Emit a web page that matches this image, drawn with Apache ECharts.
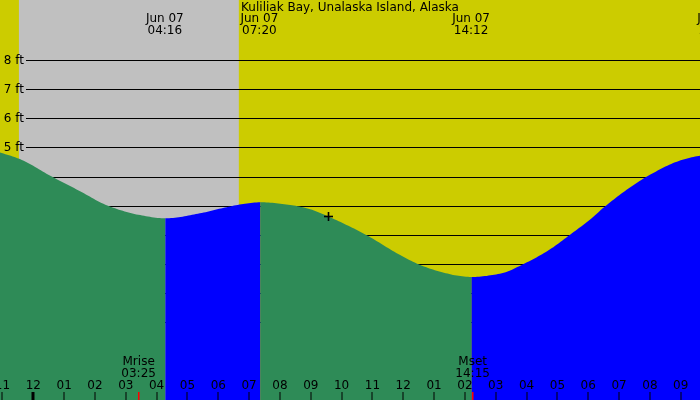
<!DOCTYPE html>
<html><head><meta charset="utf-8">
<script src="https://cdn.jsdelivr.net/npm/echarts@6/dist/echarts.min.js"></script>
<style>html,body{margin:0;padding:0;background:#fff}#c{width:700px;height:400px}</style>
</head><body><div id="c"></div>
<script>
const TITLE = 'Kuliliak Bay, Unalaska Island, Alaska';
// minutes from Jun 07 00:00 (negative = Jun 06)
const tideMinutes = [-65, -26, 33, 91, 144, 208, 257, 324, 373, 412, 442, 500, 539, 568, 617, 646, 714, 753, 792, 831, 853, 908, 957, 1005, 1044, 1085, 1112, 1151, 1180, 1200, 1249, 1278, 1298];
const tideFeet    = [4.83, 4.60, 4.03, 3.50, 3.01, 2.68, 2.57, 2.74, 2.94, 3.07, 3.12, 3.03, 2.88, 2.68, 2.28, 2.02, 1.31, 0.97, 0.74, 0.59, 0.56, 0.67, 1.03, 1.50, 2.00, 2.55, 2.97, 3.50, 3.85, 4.06, 4.49, 4.65, 4.72];
// tide extremes labels
const extremeDates = ['Jun 07', 'Jun 07', 'Jun 07', 'Jun 07'];
const extremeTimes = ['04:16', '07:20', '14:12', '22:09'];
// moon events
const moonNames = ['Mrise', 'Mset'];
const moonTimes = ['03:25', '14:15'];
// night (gray) span in minutes
const nightSpan = [-28, 400];
// current time marker
const nowMarker = [574, 2.64];
// hour ticks
const hourTicks = [-60, 0, 60, 120, 180, 240, 300, 360, 420, 480, 540, 600, 660, 720, 780, 840, 900, 960, 1020, 1080, 1140, 1200, 1260];
const hourLabels = ['11','12','01','02','03','04','05','06','07','08','09','10','11','12','01','02','03','04','05','06','07','08','09'];
// y axis ticks
const yTicks = [8, 7, 6, 5, 4, 3, 2, 1, 0, -1];
const yLabels = ['8 ft', '7 ft', '6 ft', '5 ft', '4 ft', '3 ft', '2 ft', '1 ft', '0 ft', '-1 ft'];

const X_MIN = -64.8, X_MAX = 1297.5;
const Y_MIN = -3.658, Y_MAX = 10.055;
const FONT = '12px "DejaVu Sans"';
const GREEN = '#2E8B57', BLUE = '#0000FF', YELLOW = '#CCCC00', GRAY = '#C0C0C0';

function hm(s){ const p = s.split(':').map(Number); return p[0]*60 + p[1]; }

const chart = echarts.init(document.getElementById('c'), null, {renderer: 'canvas', width: 700, height: 400});

// split tide into rising / falling segments at extremes
const breaks = [0];
for (let i = 1; i < tideFeet.length - 1; i++) {
  if ((tideFeet[i] - tideFeet[i-1]) * (tideFeet[i+1] - tideFeet[i]) < 0) breaks.push(i);
}
breaks.push(tideFeet.length - 1);
const segments = [];
for (let s = 0; s < breaks.length - 1; s++) {
  const a = breaks[s], b = breaks[s+1];
  segments.push([tideMinutes[a], tideMinutes[b], a, b, tideFeet[b] > tideFeet[a] ? 1 : 0]);
}

// monotone cubic (Fritsch-Carlson) smoothing in pixel space
function monotoneTangents(xs, ys){
  const n = xs.length, d = [], m = new Array(n);
  for (let k = 0; k < n - 1; k++) d.push((ys[k+1]-ys[k])/(xs[k+1]-xs[k]));
  m[0] = d[0]; m[n-1] = d[n-2];
  for (let k = 1; k < n - 1; k++) {
    if (d[k-1] * d[k] <= 0) { m[k] = 0; continue; }
    const h0 = xs[k]-xs[k-1], h1 = xs[k+1]-xs[k];
    const w1 = 2*h1 + h0, w2 = h1 + 2*h0;
    m[k] = (w1 + w2) / (w1/d[k-1] + w2/d[k]);
  }
  return m;
}

function txt(x, y, s, align){
  return {type: 'text', x: x, y: y, style: {text: s, fill: '#000', font: FONT,
    align: align || 'center', textAlign: align || 'center', verticalAlign: 'middle', textVerticalAlign: 'middle'}};
}

const option = {
  animation: false,
  backgroundColor: YELLOW,
  title: {text: TITLE, left: 'center', top: 2, padding: 0,
    textStyle: {fontFamily: 'DejaVu Sans', fontSize: 12, fontWeight: 'normal', color: '#000'}},
  grid: [{left: 0, right: 0, top: 0, bottom: 0}],
  xAxis: [{type: 'value', min: X_MIN, max: X_MAX, show: false}],
  yAxis: [{type: 'value', min: Y_MIN, max: Y_MAX, show: false}],
  series: [
    { // night shading
      type: 'custom', z: 0, silent: true,
      data: [[nightSpan[0], nightSpan[1]]],
      renderItem: function(params, api){
        const p0 = api.coord([api.value(0), Y_MAX]);
        const p1 = api.coord([api.value(1), Y_MIN]);
        return {type: 'rect', shape: {x: p0[0], y: p0[1], width: p1[0]-p0[0], height: p1[1]-p0[1]}, style: {fill: GRAY}};
      }
    },
    { // y grid lines + labels
      type: 'custom', z: 1, silent: true,
      data: yTicks.map((v, i) => [X_MIN, v, i]),
      renderItem: function(params, api){
        const p = api.coord([api.value(0), api.value(1)]);
        const y = Math.round(p[1]) + 0.5;
        return {type: 'group', children: [
          {type: 'line', shape: {x1: 26, y1: y, x2: 700, y2: y}, style: {stroke: '#000', lineWidth: 1}},
          txt(24, y, yLabels[api.value(2)], 'right')
        ]};
      }
    },
    { // water: falling = green, rising = blue
      type: 'custom', z: 2, silent: true,
      data: segments,
      renderItem: function(params, api){
        const xs = [], ys = [];
        for (let i = 0; i < tideMinutes.length; i++) {
          const p = api.coord([tideMinutes[i], tideFeet[i]]);
          xs.push(p[0]); ys.push(p[1]);
        }
        const m = monotoneTangents(xs, ys);
        const a = api.value(2), b = api.value(3);
        const bottom = api.coord([X_MIN, Y_MIN])[1];
        const pts = [[xs[a], bottom]];
        for (let k = a; k < b; k++) {
          const h = xs[k+1] - xs[k];
          const steps = Math.max(2, Math.ceil(h / 2));
          for (let s = 0; s <= steps; s++) {
            const t = s / steps, t2 = t*t, t3 = t2*t;
            const y = (2*t3 - 3*t2 + 1)*ys[k] + (t3 - 2*t2 + t)*h*m[k] + (-2*t3 + 3*t2)*ys[k+1] + (t3 - t2)*h*m[k+1];
            pts.push([xs[k] + t*h, y]);
          }
        }
        pts.push([xs[b], bottom]);
        return {type: 'polygon', shape: {points: pts}, style: {fill: api.value(4) ? BLUE : GREEN}};
      }
    },
    { // hour ticks + labels
      type: 'custom', z: 5, silent: true,
      data: hourTicks.map((m, i) => [m, i]),
      renderItem: function(params, api){
        const m = api.value(0);
        const p = api.coord([m, 0]);
        const x = Math.round(p[0]);
        const w = (m % 1440 === 0) ? 3 : 1;
        return {type: 'group', children: [
          {type: 'rect', shape: {x: x - w/2, y: 392, width: w, height: 8}, style: {fill: '#000'}},
          txt(p[0], 386, hourLabels[api.value(1)])
        ]};
      }
    },
    { // moon events
      type: 'custom', z: 5, silent: true,
      data: moonTimes.map((t, i) => [hm(t), i]),
      renderItem: function(params, api){
        const i = api.value(1);
        const p = api.coord([api.value(0), 0]);
        const x = Math.round(p[0]);
        return {type: 'group', children: [
          {type: 'rect', shape: {x: x - 1, y: 392, width: 1.5, height: 8}, style: {fill: '#FF0000'}},
          txt(p[0], 362, moonNames[i]),
          txt(p[0], 374, moonTimes[i])
        ]};
      }
    },
    { // tide extreme labels
      type: 'custom', z: 5, silent: true, clip: false,
      data: extremeTimes.map((t, i) => [hm(t), i]),
      renderItem: function(params, api){
        const i = api.value(1);
        const p = api.coord([api.value(0), 0]);
        return {type: 'group', children: [
          txt(p[0], 19, extremeDates[i]),
          txt(p[0], 31, extremeTimes[i])
        ]};
      }
    },
    { // current time marker
      type: 'custom', z: 5, silent: true,
      data: [nowMarker],
      renderItem: function(params, api){
        const p = api.coord([api.value(0), api.value(1)]);
        const x = Math.round(p[0]) + 0.5, y = Math.round(p[1]) + 0.5;
        return {type: 'group', children: [
          {type: 'line', shape: {x1: x - 4.5, y1: y, x2: x + 4.5, y2: y}, style: {stroke: '#000', lineWidth: 1.6}},
          {type: 'line', shape: {x1: x, y1: y - 4.5, x2: x, y2: y + 4.5}, style: {stroke: '#000', lineWidth: 1.6}}
        ]};
      }
    }
  ]
};
chart.setOption(option);
</script>
</body></html>
